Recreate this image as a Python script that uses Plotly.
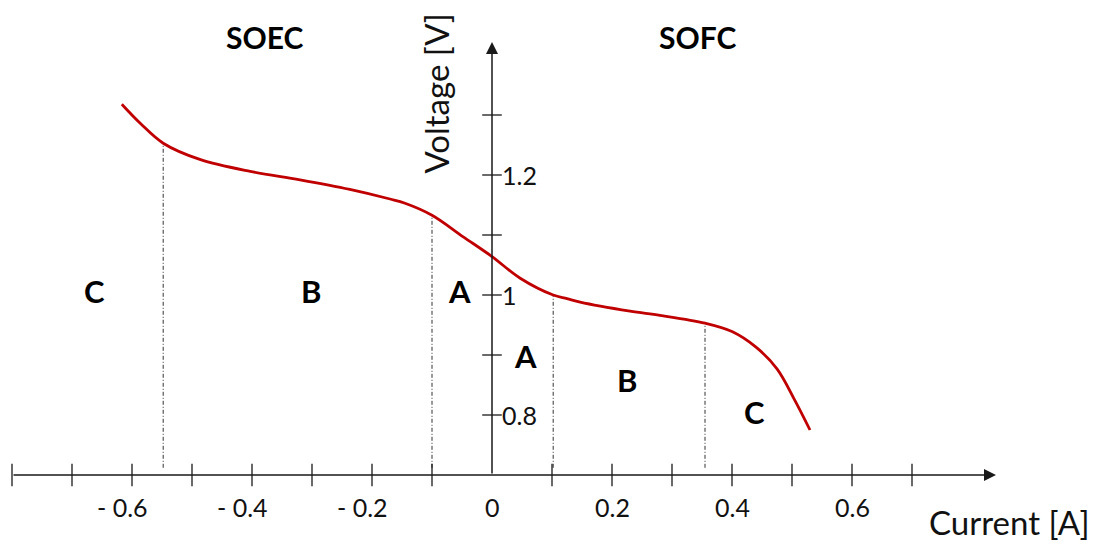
import plotly.graph_objects as go

# ---- data ----
curve_current = [-0.617, -0.585, -0.548, -0.487, -0.403, -0.320, -0.237, -0.170, -0.145, -0.100,
                 -0.048, 0.000, 0.047, 0.102, 0.125, 0.147, 0.230, 0.280, 0.355, 0.400,
                 0.440, 0.475, 0.505, 0.530]
curve_voltage = [1.318, 1.285, 1.253, 1.226, 1.206, 1.192, 1.176, 1.160, 1.153, 1.133,
                 1.097, 1.064, 1.028, 1.000, 0.994, 0.988, 0.973, 0.966, 0.953, 0.939,
                 0.913, 0.877, 0.824, 0.775]

boundary_current = [-0.548, -0.100, 0.102, 0.355]
boundary_voltage = [1.253, 1.133, 1.000, 0.953]

x_tick_values = [-0.8, -0.7, -0.6, -0.5, -0.4, -0.3, -0.2, -0.1, 0.1, 0.2, 0.3, 0.4, 0.5, 0.6, 0.7]
x_label_values = [-0.6, -0.4, -0.2, 0.0, 0.2, 0.4, 0.6]
x_label_texts = ["- 0.6", "- 0.4", "- 0.2", "0", "0.2", "0.4", "0.6"]

y_tick_values = [0.8, 0.9, 1.0, 1.1, 1.2, 1.3]
y_label_values = [0.8, 1.0, 1.2]
y_label_texts = ["0.8", "1", "1.2"]

region_labels = ["C", "B", "A", "A", "B", "C"]
region_current = [-0.663, -0.302, -0.055, 0.056, 0.2245, 0.437]
region_voltage = [1.007, 1.007, 1.007, 0.899, 0.858, 0.8045]

mode_labels = ["SOEC", "SOFC"]
mode_current = [-0.38, 0.3425]
mode_voltage = [1.43, 1.43]

x_axis_voltage = 0.7      # where the current axis crosses
x_axis_start, x_axis_end = -0.8, 0.84
y_axis_end = 1.4217

FONT = "Lato"
AXIS_COLOR = "#1a1a1a"

fig = go.Figure()

# dashed region boundaries
for bc, bv in zip(boundary_current, boundary_voltage):
    fig.add_trace(go.Scatter(
        x=[bc, bc], y=[x_axis_voltage + 0.012, bv], mode="lines",
        line=dict(color="#333333", width=1, dash="4px,2px,1px,2px"),
        hoverinfo="skip"))

# ticks
fig.add_trace(go.Scatter(
    x=x_tick_values, y=[x_axis_voltage] * len(x_tick_values), mode="markers",
    marker=dict(symbol="line-ns", size=16, line=dict(color=AXIS_COLOR, width=1.3)),
    hoverinfo="skip"))
fig.add_trace(go.Scatter(
    x=[0] * len(y_tick_values), y=y_tick_values, mode="markers",
    marker=dict(symbol="line-ew", size=14, line=dict(color=AXIS_COLOR, width=1.3)),
    hoverinfo="skip"))

# I-V curve
fig.add_trace(go.Scatter(
    x=curve_current, y=curve_voltage, mode="lines",
    line=dict(color="#C00000", width=2.8, shape="spline", smoothing=1.0),
    hoverinfo="skip"))

annotations = []
# axes with arrows
annotations.append(dict(x=x_axis_end, y=x_axis_voltage, ax=x_axis_start, ay=x_axis_voltage,
                        xref="x", yref="y", axref="x", ayref="y", text="",
                        showarrow=True, arrowhead=2, arrowsize=1.6, arrowwidth=1.5,
                        arrowcolor=AXIS_COLOR, standoff=0, startstandoff=0))
annotations.append(dict(x=0, y=y_axis_end, ax=0, ay=x_axis_voltage,
                        xref="x", yref="y", axref="x", ayref="y", text="",
                        showarrow=True, arrowhead=2, arrowsize=1.6, arrowwidth=1.5,
                        arrowcolor=AXIS_COLOR, standoff=0, startstandoff=0))

# x tick labels
for v, t in zip(x_label_values, x_label_texts):
    if t.startswith("-"):
        annotations.append(dict(x=v + 0.03, y=0.647, xref="x", yref="y", text=t,
                                showarrow=False, xanchor="right", yanchor="middle",
                                font=dict(family=FONT, size=25, color="#111")))
    else:
        annotations.append(dict(x=v, y=0.647, xref="x", yref="y", text=t,
                                showarrow=False, xanchor="center", yanchor="middle",
                                font=dict(family=FONT, size=25, color="#111")))

# y tick labels
for v, t in zip(y_label_values, y_label_texts):
    annotations.append(dict(x=0.014, y=v, xref="x", yref="y", text=t,
                            showarrow=False, xanchor="left", yanchor="middle",
                            font=dict(family=FONT, size=25, color="#111")))

# axis titles
annotations.append(dict(x=0.863, y=0.622, xref="x", yref="y", text="Current [A]",
                        showarrow=False, xanchor="center", yanchor="middle",
                        font=dict(family=FONT, size=33, color="#111")))
annotations.append(dict(x=-0.094, y=1.335, xref="x", yref="y", text="Voltage [V]",
                        showarrow=False, xanchor="center", yanchor="middle", textangle=-90,
                        font=dict(family=FONT, size=33, color="#111")))

# region labels
for t, c, v in zip(region_labels, region_current, region_voltage):
    annotations.append(dict(x=c, y=v, xref="x", yref="y", text="<b>%s</b>" % t,
                            showarrow=False, xanchor="center", yanchor="middle",
                            font=dict(family=FONT, size=31, color="#000")))
for t, c, v in zip(mode_labels, mode_current, mode_voltage):
    annotations.append(dict(x=c, y=v, xref="x", yref="y", text="<b>%s</b>" % t,
                            showarrow=False, xanchor="center", yanchor="middle",
                            font=dict(family=FONT, size=30, color="#000")))

fig.update_layout(
    width=1101, height=545,
    margin=dict(l=0, r=0, t=0, b=0),
    paper_bgcolor="white", plot_bgcolor="white",
    showlegend=False,
    xaxis=dict(visible=False, range=[-0.82, 1.015], fixedrange=True),
    yaxis=dict(visible=False, range=[0.583333, 1.491667], fixedrange=True),
    annotations=annotations,
)

# remove the page's default 8px body margin so the figure fills the window exactly
fig.write_html("out.html",
               config={"displayModeBar": False},
               post_script="document.body.style.margin='0';document.body.style.overflow='hidden';")
